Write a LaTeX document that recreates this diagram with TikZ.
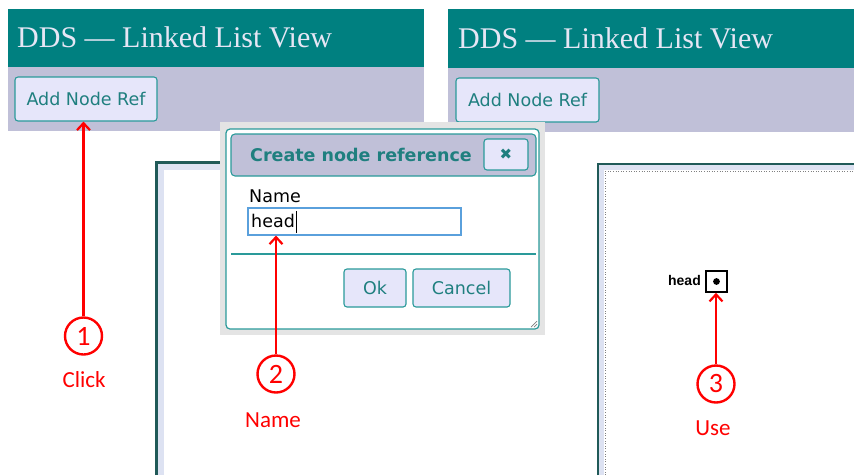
\documentclass[tikz,border=0pt]{standalone}
\usepackage{fontspec}
\setmainfont{DejaVu Sans}
\newfontfamily\headfont{Liberation Serif}
\newfontfamily\notefont{Carlito}
\newfontfamily\canvasfont{Liberation Sans}
\usetikzlibrary{arrows.meta}

\definecolor{hdrteal}{HTML}{008080}
\definecolor{hdrtext}{HTML}{E6E6F5}
\definecolor{band}{HTML}{C0C0D8}
\definecolor{btnfill}{HTML}{E6E6FA}
\definecolor{btnline}{HTML}{2A9A9A}
\definecolor{btntext}{HTML}{1F7F7F}
\definecolor{framedark}{HTML}{205A58}
\definecolor{framein}{HTML}{DDE2F2}
\definecolor{dlggray}{HTML}{E4E4E4}
\definecolor{inputline}{HTML}{5AA0DC}
\definecolor{marker}{HTML}{FF0000}

\tikzset{
  uitext/.style={font=\fontsize{17.5}{20}\selectfont},
  uibutton/.style={draw=btnline, fill=btnfill, line width=1.1pt, rounded corners=3pt,
    inner sep=0pt, text=btntext, uitext},
  headertext/.style={anchor=base west, text=hdrtext, inner sep=0pt,
    font=\headfont\fontsize{30}{34}\selectfont},
  stepcirc/.style={circle, draw=marker, line width=2.4pt, minimum size=37pt, inner sep=0pt,
    text=marker, font=\notefont\fontsize{28}{30}\selectfont},
  steplabel/.style={anchor=base, inner sep=0pt, text=marker,
    font=\notefont\fontsize{23}{26}\selectfont},
  markarrow/.style={draw=marker, line width=2.4pt,
    -{Straight Barb[length=7pt,width=13pt,line width=2.2pt]}},
}

\begin{document}
\begin{tikzpicture}[x=1pt,y=-1pt]
\useasboundingbox[fill=white] (0,0) rectangle (854,475);

% ---- left view: header, toolbar and canvas ----
\fill[hdrteal] (8,9) rectangle (424,67);
\fill[band] (8,67) rectangle (424,131);
\node[headertext] (titleL) at (17,47) {DDS — Linked List View};
\node[uibutton, minimum width=142pt, minimum height=44pt] (btnL) at (86,99) {Add Node Ref};

\fill[framein] (155,161) rectangle (430,475);
\fill[white] (164,170) rectangle (430,475);
\draw[framedark, line width=2.5pt] (156.5,475) -- (156.5,162.5) -- (430,162.5);

% ---- right view: header, toolbar and canvas ----
\fill[hdrteal] (448,9) rectangle (854,68);
\fill[band] (448,68) rectangle (854,132);
\node[headertext] (titleR) at (458,48) {DDS — Linked List View};
\node[uibutton, minimum width=143pt, minimum height=44pt] (btnR) at (527.5,100) {Add Node Ref};

\fill[framein] (597,163) rectangle (854,475);
\fill[white] (604,170) rectangle (854,475);
\draw[framedark, line width=2.5pt] (598,475) -- (598,164) -- (854,164);
\draw[gray, dotted, line width=0.6pt] (605,475) -- (605,171) -- (854,171);

% node reference drawn in the canvas
\node[draw=black, line width=1.6pt, minimum size=21pt, inner sep=0pt] (ptr) at (716.5,281.5) {};
\fill[black] (ptr.center) circle (3.4pt);
\node[anchor=base east, inner sep=0pt, font=\canvasfont\bfseries\fontsize{14}{16}\selectfont]
  (ptrname) at (701,285) {head};

% ---- dialog ----
\fill[dlggray] (220,122) rectangle (545,335);
\draw[btnline, fill=white, rounded corners=4pt, line width=1.2pt] (226,129) rectangle (539,329);
\node[draw=btnline, fill=band, rounded corners=4pt, line width=1.1pt, inner sep=0pt,
  minimum width=305pt, minimum height=42pt] (titlebar) at (383.5,155) {};
\node[anchor=base west, inner sep=0pt, text=btntext,
  font={\fontsize{17.5}{20}\selectfont\bfseries}]
  (dlgtitle) at (250,161) {Create node reference};
\node[uibutton, minimum width=44pt, minimum height=31pt, font=\fontsize{15}{16}\selectfont]
  (close) at (506,154.5) {✖};
\node[anchor=base west, inner sep=0pt, uitext] (namelbl) at (249,202) {Name};
\node[draw=inputline, line width=1.1pt, fill=white, inner sep=0pt,
  minimum width=213pt, minimum height=27pt] (input) at (354.5,221.5) {};
\node[anchor=base west, inner sep=0pt, uitext] (inputtext) at (251,227) {head};
\draw[black, line width=0.8pt] (296,211) -- (296,233);
\draw[btnline, line width=1.1pt] (231,254) -- (536,254);
\node[uibutton, minimum width=62pt, minimum height=38pt] (okbtn) at (375,288) {Ok};
\node[uibutton, minimum width=97pt, minimum height=38pt] (cancelbtn) at (461.5,288) {Cancel};
\draw[gray, line width=0.7pt] (531,327) -- (537,321) (534,327) -- (537,324);

% ---- numbered step markers ----
\node[stepcirc] (c1) at (83.5,336) {1};
\node[steplabel] (l1) at (84,387) {Click};
\draw[markarrow] (c1.north) -- (c1.north |- btnL.south);

\node[stepcirc] (c2) at (276,374) {2};
\node[steplabel] (l2) at (273,427) {Name};
\draw[markarrow] (c2.north) -- (c2.north |- input.south);

\node[stepcirc] (c3) at (716,384) {3};
\node[steplabel] (l3) at (713,435) {Use};
\draw[markarrow] (c3.north) -- (c3.north |- ptr.south);
\end{tikzpicture}
\end{document}
